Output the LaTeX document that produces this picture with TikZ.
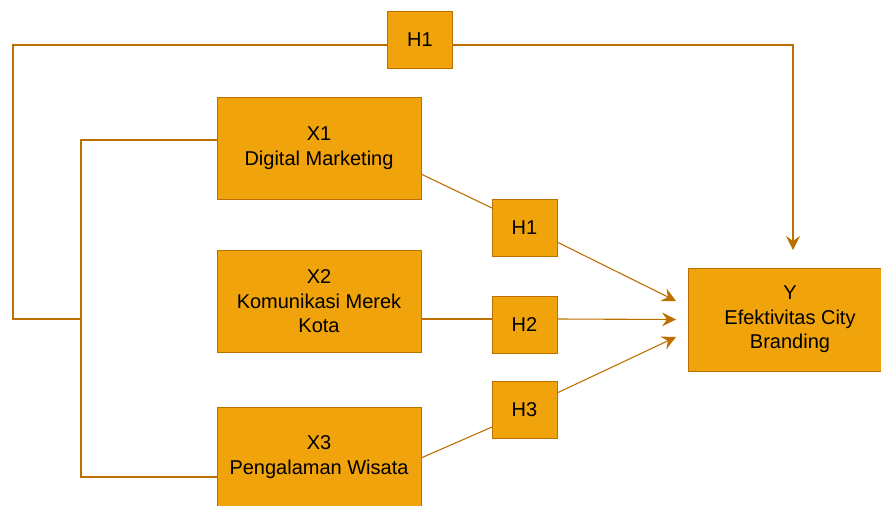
\documentclass[tikz,border=0pt]{standalone}
\usepackage{fontspec}
\setmainfont{Liberation Sans}
\usetikzlibrary{arrows.meta}
\definecolor{boxfill}{HTML}{F0A30A}
\definecolor{boxline}{HTML}{BD7000}

\begin{document}
\begin{tikzpicture}[x=1pt, y=-1pt,
every node/.style = {shape=rectangle, draw=boxline, fill=boxfill,
	line width=0.8pt, inner sep=0pt, outer sep=0pt, align=center,
	font=\fontsize{20}{24.5}\selectfont},
varbox/.style = {minimum width=204pt, minimum height=102pt},
hypbox/.style = {minimum width=65pt, minimum height=57pt},
link/.style = {draw=boxline, line width=1.1pt},
arrow/.style = {link, -{Stealth[length=14pt, width=14pt, inset=5pt]}}]
	\useasboundingbox (0,0) rectangle (881,506);
	\node[varbox] (X1) at (319,148) {X1\\Digital Marketing};
	\node[varbox] (X2) at (319,301.5) {X2\\Komunikasi Merek\\Kota};
	\node[varbox, minimum height=100pt] (X3) at (319,457) {X3\\Pengalaman Wisata};
	\node[varbox, minimum height=103pt] (Y) at (790,319.5) {Y\\Efektivitas City\\Branding};
	\node[hypbox] (Htop) at (420,39.5) {H1};
	\node[hypbox] (H1) at (524.5,227.5) {H1};
	\node[hypbox] (H2) at (524.5,324.5) {H2};
	\node[hypbox] (H3) at (524.5,410) {H3};
	\coordinate (join) at (81,319);
	\coordinate (yin) at (793,250);
	\draw[link] ([yshift=8pt]X1.west) -| (join) |- ([yshift=-20pt]X3.west);
	\draw[link] (join) -| (13,45) -- ([yshift=-5.5pt]Htop.west);
	\draw[arrow] ([yshift=-5.5pt]Htop.east) -| (yin);
	\draw[link] ([yshift=-26pt]X1.east) -- ([yshift=19.5pt]H1.west);
	\draw[link] (X2.east |- join) -- (H2.west |- join);
	\draw[link] ([yshift=-1pt]X3.east) -- ([yshift=-17pt]H3.west);
	\draw[arrow] ([yshift=-14.5pt]H1.east) -- ([xshift=-12pt, yshift=18.5pt]Y.west);
	\draw[arrow] (H2.east |- join) -- ([xshift=-12pt]Y.west);
	\draw[arrow] ([yshift=17pt]H3.east) -- ([xshift=-12pt, yshift=-17.5pt]Y.west);
\end{tikzpicture}
\end{document}
